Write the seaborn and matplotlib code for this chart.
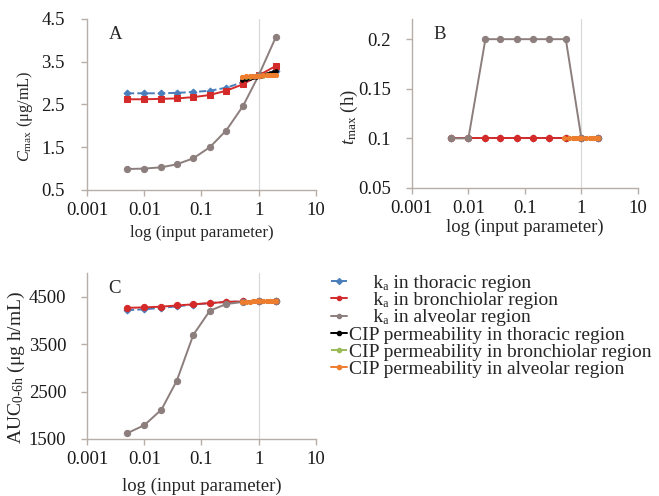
import matplotlib
matplotlib.use("Agg")
import matplotlib.pyplot as plt
import seaborn as sns
import pandas as pd
from matplotlib.ticker import FixedLocator, FixedFormatter, NullLocator
from matplotlib.lines import Line2D

sns.set_style("white")
plt.rcParams['font.family'] = ['Liberation Serif', 'DejaVu Serif']
plt.rcParams['mathtext.fontset'] = 'custom'
plt.rcParams['mathtext.rm'] = 'Liberation Serif'
plt.rcParams['mathtext.it'] = 'Liberation Serif:italic'

# ---------------- data ----------------
ka_x = [0.005, 0.01, 0.02, 0.037, 0.072, 0.14, 0.27, 0.53, 1.0, 2.0]
cip_x = [0.5, 0.6, 0.7, 0.8, 0.9, 1.0, 1.2, 1.4, 1.6, 1.8, 2.0]

ka_thor_cmax = [2.76, 2.76, 2.76, 2.77, 2.79, 2.82, 2.89, 3.02, 3.18, 3.27]
ka_bron_cmax = [2.62, 2.62, 2.63, 2.64, 2.67, 2.72, 2.82, 2.97, 3.18, 3.40]
ka_alv_cmax = [0.99, 1.00, 1.03, 1.10, 1.24, 1.50, 1.89, 2.46, 3.18, 4.08]
cip_thor_cmax = [3.06, 3.09, 3.11, 3.13, 3.15, 3.17, 3.19, 3.21, 3.23, 3.25, 3.27]
cip_bron_cmax = [3.14, 3.15, 3.15, 3.16, 3.16, 3.17, 3.17, 3.18, 3.18, 3.19, 3.19]
cip_alv_cmax = [3.15, 3.16, 3.16, 3.17, 3.17, 3.17, 3.18, 3.18, 3.18, 3.19, 3.19]

ka_thor_tmax = [0.1, 0.1, 0.1, 0.1, 0.1, 0.1, 0.1, 0.1, 0.1, 0.1]
ka_bron_tmax = [0.1, 0.1, 0.1, 0.1, 0.1, 0.1, 0.1, 0.1, 0.1, 0.1]
ka_alv_tmax = [0.1, 0.1, 0.2, 0.2, 0.2, 0.2, 0.2, 0.2, 0.1, 0.1]
cip_thor_tmax = [0.1, 0.1, 0.1, 0.1, 0.1, 0.1, 0.1, 0.1, 0.1, 0.1, 0.1]
cip_bron_tmax = [0.1, 0.1, 0.1, 0.1, 0.1, 0.1, 0.1, 0.1, 0.1, 0.1, 0.1]
cip_alv_tmax = [0.1, 0.1, 0.1, 0.1, 0.1, 0.1, 0.1, 0.1, 0.1, 0.1, 0.1]

ka_thor_auc = [4220, 4240, 4270, 4300, 4340, 4370, 4395, 4405, 4410, 4410]
ka_bron_auc = [4270, 4280, 4295, 4320, 4345, 4370, 4395, 4405, 4410, 4410]
ka_alv_auc = [1620, 1790, 2120, 2730, 3700, 4210, 4350, 4395, 4405, 4410]
cip_thor_auc = [4400, 4402, 4404, 4405, 4406, 4407, 4408, 4409, 4410, 4410, 4410]
cip_bron_auc = [4400, 4402, 4404, 4405, 4406, 4407, 4408, 4409, 4410, 4410, 4410]
cip_alv_auc = [4400, 4402, 4404, 4405, 4406, 4407, 4408, 4409, 4410, 4410, 4410]

labels = ["     k\u2090 in thoracic region",
          "     k\u2090 in bronchiolar region",
          "     k\u2090 in alveolar region",
          "CIP permeability in thoracic region",
          "CIP permeability in bronchiolar region",
          "CIP permeability in alveolar region"]

x_ticks = [0.001, 0.01, 0.1, 1, 10]
x_ticklabels = ["0.001", "0.01", "0.1", "1", "10"]

# ---------------- styles ----------------
styles = [
    dict(color="#4a7ebb", linestyle="--", marker="D", markersize=3.5, lw=1.4),
    dict(color="#d42a2a", linestyle="-", marker="s", markersize=4.5, lw=1.4),
    dict(color="#8c7e7c", linestyle="-", marker="o", markersize=4.5, lw=1.4),
    dict(color="#000000", linestyle="-", marker="o", markersize=2.5, lw=1.4),
    dict(color="#9bbb59", linestyle="--", marker="o", markersize=2.5, lw=1.4),
    dict(color="#ef7d2e", linestyle="-", marker="o", markersize=3.0, lw=1.4),
]
spine_col = "#b8aea8"

fig = plt.figure(figsize=(6.59, 4.96), dpi=100)
axA = fig.add_axes([0.132, 0.617, 0.3475, 0.345])
axB = fig.add_axes([0.625, 0.621, 0.343, 0.340])
axC = fig.add_axes([0.132, 0.115, 0.3475, 0.334])


def draw(ax, series, ylim, yticks, yticklabels, ylabel, letter, red_marker,
         ylab_size, ylab_xy, xlab_size, ypad, xlabpad):
    ax.axvline(1, color="#d9d9d9", lw=0.9, zorder=0)
    xs = [ka_x, ka_x, ka_x, cip_x, cip_x, cip_x]
    for i, (x, y) in enumerate(zip(xs, series)):
        st = dict(styles[i])
        if i == 1:
            st["marker"] = red_marker
        df = pd.DataFrame({"x": x, "y": y})
        sns.lineplot(data=df, x="x", y="y", ax=ax, color=st["color"],
                     linestyle=st["linestyle"], marker=st["marker"],
                     markersize=st["markersize"], linewidth=st["lw"],
                     markeredgecolor=st["color"], zorder=2 + i)
    ax.set_xscale("log")
    ax.set_xlim(0.001, 10)
    ax.set_ylim(*ylim)
    ax.xaxis.set_major_locator(FixedLocator(x_ticks))
    ax.xaxis.set_major_formatter(FixedFormatter(x_ticklabels))
    ax.xaxis.set_minor_locator(NullLocator())
    ax.yaxis.set_major_locator(FixedLocator(yticks))
    ax.yaxis.set_major_formatter(FixedFormatter(yticklabels))
    for s in ["top", "right"]:
        ax.spines[s].set_visible(False)
    for s in ["left", "bottom"]:
        ax.spines[s].set_color(spine_col)
        ax.spines[s].set_linewidth(1.0)
    ax.tick_params(axis="both", which="major", direction="out", length=4,
                   width=1.0, color=spine_col, labelsize=13.5,
                   left=True, bottom=True, labelcolor="#1a1a1a")
    ax.tick_params(axis="x", pad=5)
    ax.tick_params(axis="y", pad=ypad)
    ax.set_xlabel("log (input parameter)", fontsize=xlab_size, labelpad=xlabpad)
    ax.set_ylabel(ylabel, fontsize=ylab_size)
    ax.yaxis.set_label_coords(*ylab_xy)
    ax.text(0.095, 0.96, letter, transform=ax.transAxes, fontsize=13.5,
            va="top", ha="left")


draw(axA, [ka_thor_cmax, ka_bron_cmax, ka_alv_cmax, cip_thor_cmax, cip_bron_cmax, cip_alv_cmax],
     (0.5, 4.5), [0.5, 1.5, 2.5, 3.5, 4.5], ["0.5", "1.5", "2.5", "3.5", "4.5"],
     r"$C_\mathregular{max}$ (μg/mL)", "A", "s", 11.8, (-0.225, 0.43), 12.2, 12, 4)
draw(axB, [ka_thor_tmax, ka_bron_tmax, ka_alv_tmax, cip_thor_tmax, cip_bron_tmax, cip_alv_tmax],
     (0.05, 0.22), [0.05, 0.1, 0.15, 0.2], ["0.05", "0.1", "0.15", "0.2"],
     r"$t_\mathregular{max}$ (h)", "B", "o", 13.5, (-0.228, 0.42), 13.3, 11, 1)
draw(axC, [ka_thor_auc, ka_bron_auc, ka_alv_auc, cip_thor_auc, cip_bron_auc, cip_alv_auc],
     (1500, 5000), [1500, 2500, 3500, 4500], ["1500", "2500", "3500", "4500"],
     r"AUC$_\mathregular{0\text{-}6h}$ (μg h/mL)", "C", "o", 14, (-0.26, 0.43), 13.5, 11, 7)

# legend
handles = []
for i, st in enumerate(styles):
    handles.append(Line2D([], [], color=st["color"], linestyle=st["linestyle"],
                          marker="o" if i != 0 else "D", markersize=3,
                          linewidth=1.4))
fig.legend(handles, labels, loc="upper left", bbox_to_anchor=(0.502, 0.447),
           frameon=False, fontsize=14, handlelength=0.85, handletextpad=0.1,
           labelspacing=-0.02, borderpad=0, borderaxespad=0)

fig.savefig("out.png", dpi=100)
